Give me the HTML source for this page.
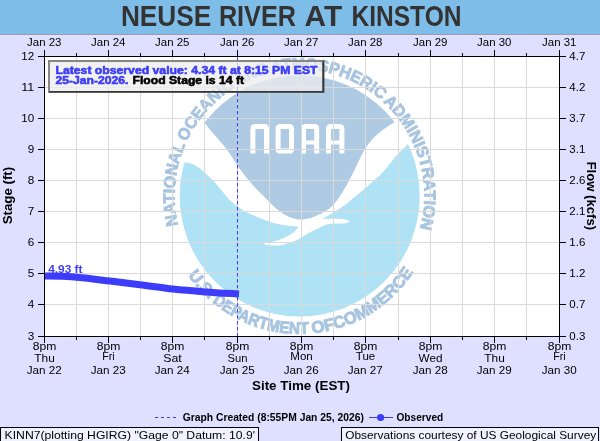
<!DOCTYPE html>
<html><head><meta charset="utf-8"><title>NEUSE RIVER AT KINSTON</title>
<style>html,body{margin:0;padding:0;background:#dfdfff;}body{width:600px;height:441px;overflow:hidden;font-family:"Liberation Sans",sans-serif;}svg{display:block;will-change:transform;}text{font-family:"Liberation Sans",sans-serif;}</style>
</head><body>
<svg width="600" height="441" viewBox="0 0 600 441">
<rect x="0" y="0" width="600" height="441" fill="#dfdfff"/>
<rect x="0" y="0" width="600" height="34" fill="#7fbde9"/>
<rect x="0" y="34" width="600" height="1" fill="#9c9cac"/>
<text x="120.9" y="26" font-size="29.6" font-weight="bold" fill="#333333" textLength="90.4" lengthAdjust="spacingAndGlyphs">NEUSE</text>
<text x="218.9" y="26" font-size="29.6" font-weight="bold" fill="#333333" textLength="77.1" lengthAdjust="spacingAndGlyphs">RIVER</text>
<text x="304.6" y="26" font-size="29.6" font-weight="bold" fill="#333333" textLength="37.6" lengthAdjust="spacingAndGlyphs">AT</text>
<text x="351.4" y="26" font-size="29.6" font-weight="bold" fill="#333333" textLength="110.1" lengthAdjust="spacingAndGlyphs">KINSTON</text>
<rect x="44" y="56" width="516" height="281" fill="#ffffff"/>
<defs><clipPath id="pc"><rect x="44.50" y="56.50" width="515.00" height="280.00"/></clipPath>
<clipPath id="disc"><ellipse cx="299.7" cy="196.0" rx="120.0" ry="120.6"/></clipPath>
<path id="ringTop" d="M 178.15 224.83 A 124.80 124.80 0 1 1 420.05 228.00"/>
<path id="ringBot" d="M 181.20 264.00 A 136.60 136.60 0 0 0 417.80 264.00"/>
</defs>
<g clip-path="url(#pc)">
<g clip-path="url(#disc)">
<path d="M 170 60 L 170 121.7 L 203.70 121.70 C 205.45 123.88 210.72 130.65 214.20 134.80 C 217.68 138.95 221.78 143.12 224.60 146.60 C 227.42 150.08 228.92 152.45 231.10 155.70 C 233.28 158.95 235.30 162.62 237.70 166.10 C 240.10 169.58 242.90 173.33 245.50 176.60 C 248.10 179.87 250.25 182.43 253.30 185.70 C 256.35 188.97 260.73 193.07 263.80 196.20 C 266.87 199.33 269.00 201.95 271.70 204.50 C 274.40 207.05 277.23 209.50 280.00 211.50 C 282.77 213.50 285.25 215.17 288.30 216.50 C 291.35 217.83 294.97 219.15 298.30 219.50 C 301.63 219.85 305.22 219.27 308.30 218.60 C 311.38 217.93 313.97 216.73 316.80 215.50 C 319.63 214.27 322.47 213.05 325.30 211.20 C 328.13 209.35 330.97 207.52 333.80 204.40 C 336.63 201.28 339.60 196.75 342.30 192.50 C 345.00 188.25 347.45 183.72 350.00 178.90 C 352.55 174.08 355.20 168.42 357.60 163.60 C 360.00 158.78 361.83 154.18 364.40 150.00 C 366.97 145.82 369.73 142.00 373.00 138.50 C 376.27 135.00 380.30 131.80 384.00 129.00 C 387.70 126.20 393.33 122.92 395.20 121.70 L 430 121.7 L 430 60 Z" fill="#afcbe4"/>
<path d="M 170 162.2 L 184.10 162.20 C 185.20 162.42 188.30 162.63 190.70 163.50 C 193.10 164.37 195.90 165.65 198.50 167.40 C 201.10 169.15 203.68 171.60 206.30 174.00 C 208.92 176.40 211.58 178.97 214.20 181.80 C 216.82 184.63 219.40 187.97 222.00 191.00 C 224.60 194.03 227.18 197.40 229.80 200.00 C 232.42 202.60 234.65 204.42 237.70 206.60 C 240.75 208.78 244.62 211.27 248.10 213.10 C 251.58 214.93 255.78 216.45 258.60 217.60 C 261.42 218.75 262.27 219.05 265.00 220.00 C 267.73 220.95 271.12 222.33 275.00 223.30 C 278.88 224.27 284.35 225.23 288.30 225.80 C 292.25 226.37 296.97 226.55 298.70 226.70 L 298.70 226.70 C 297.80 227.67 295.58 230.70 293.30 232.50 C 291.02 234.30 288.05 236.03 285.00 237.50 C 281.95 238.97 278.62 240.35 275.00 241.30 C 271.38 242.25 265.25 242.88 263.30 243.20 L 263.30 243.80 C 264.42 244.05 267.22 245.05 270.00 245.30 C 272.78 245.55 276.95 245.63 280.00 245.30 C 283.05 244.97 285.25 244.32 288.30 243.30 C 291.35 242.28 294.97 240.87 298.30 239.20 C 301.63 237.53 304.97 235.12 308.30 233.30 C 311.63 231.48 315.52 229.65 318.30 228.30 C 321.08 226.95 322.50 225.98 325.00 225.20 C 327.50 224.42 329.97 223.92 333.30 223.60 C 336.63 223.28 342.22 223.63 345.00 223.30 C 347.78 222.97 349.17 221.88 350.00 221.60 L 350.00 221.40 C 349.00 221.03 346.70 219.63 344.00 219.20 C 341.30 218.77 337.48 218.85 333.80 218.80 C 330.12 218.75 323.88 218.88 321.90 218.90 L 321.90 218.90 C 322.75 218.47 324.73 217.58 327.00 216.30 C 329.27 215.02 332.38 213.18 335.50 211.20 C 338.62 209.22 342.30 206.95 345.70 204.40 C 349.10 201.85 352.63 198.58 355.90 195.90 C 359.17 193.22 362.32 190.85 365.30 188.30 C 368.28 185.75 371.12 183.02 373.80 180.60 C 376.48 178.18 378.70 176.67 381.40 173.80 C 384.10 170.93 387.17 166.78 390.00 163.40 C 392.83 160.02 395.15 157.00 398.40 153.50 C 401.65 150.00 407.65 144.25 409.50 142.40 L 430 142.4 L 430 330 L 170 330 Z" fill="#b0e2f6"/>
</g>
<path d="M 252.90 153.60 L 252.90 128.70 Q 252.90 126.50 255.10 126.50 L 264.30 126.50 Q 266.50 126.50 266.50 128.70 L 266.50 153.60" fill="none" stroke="#ffffff" stroke-width="5.0" stroke-linejoin="miter"/>
<path d="M 278.10 148.90 L 278.10 128.70 Q 278.10 126.50 280.30 126.50 L 289.30 126.50 Q 291.50 126.50 291.50 128.70 L 291.50 148.90 Q 291.50 151.10 289.30 151.10 L 280.30 151.10 Q 278.10 151.10 278.10 148.90 Z" fill="none" stroke="#ffffff" stroke-width="5.0" stroke-linejoin="miter"/>
<path d="M 303.50 153.60 L 303.50 128.70 Q 303.50 126.50 305.70 126.50 L 314.50 126.50 Q 316.70 126.50 316.70 128.70 L 316.70 153.60" fill="none" stroke="#ffffff" stroke-width="5.0" stroke-linejoin="miter"/><rect x="302.00" y="140.5" width="16.20" height="4" fill="#ffffff"/>
<path d="M 328.50 153.60 L 328.50 128.70 Q 328.50 126.50 330.70 126.50 L 339.70 126.50 Q 341.90 126.50 341.90 128.70 L 341.90 153.60" fill="none" stroke="#ffffff" stroke-width="5.0" stroke-linejoin="miter"/><rect x="327.00" y="140.5" width="16.40" height="4" fill="#ffffff"/>
<g transform="translate(0 195.700) scale(1 1.012) translate(0 -195.700)" font-weight="bold" fill="#a7c4e0" stroke="#a7c4e0" word-spacing="-1.5">
<text font-size="16.3" stroke-width="0.8" textLength="454.1" lengthAdjust="spacingAndGlyphs"><textPath href="#ringTop" startOffset="0" textLength="454.1" lengthAdjust="spacingAndGlyphs">NATIONAL OCEANIC AND ATMOSPHERIC ADMINISTRATION</textPath></text>
<text font-size="16.6" stroke-width="0.9" textLength="32.4" lengthAdjust="spacingAndGlyphs"><textPath href="#ringBot" startOffset="12.2" textLength="32.4" lengthAdjust="spacingAndGlyphs">U.S.</textPath></text>
<text font-size="16.6" stroke-width="0.9" textLength="104.2" lengthAdjust="spacingAndGlyphs"><textPath href="#ringBot" startOffset="48.2" textLength="104.2" lengthAdjust="spacingAndGlyphs">DEPARTMENT</textPath></text>
<text font-size="16.6" stroke-width="0.9" textLength="23.6" lengthAdjust="spacingAndGlyphs"><textPath href="#ringBot" startOffset="155.7" textLength="23.6" lengthAdjust="spacingAndGlyphs">OF</textPath></text>
<text font-size="16.6" stroke-width="0.9" textLength="98.7" lengthAdjust="spacingAndGlyphs"><textPath href="#ringBot" startOffset="178.8" textLength="98.7" lengthAdjust="spacingAndGlyphs">COMMERCE</textPath></text>
</g>
</g>
<g fill="#dadada" shape-rendering="crispEdges">
<rect x="76" y="57" width="1" height="279"/>
<rect x="108" y="57" width="1" height="279"/>
<rect x="140" y="57" width="1" height="279"/>
<rect x="172" y="57" width="1" height="279"/>
<rect x="204" y="57" width="1" height="279"/>
<rect x="237" y="57" width="1" height="279"/>
<rect x="269" y="57" width="1" height="279"/>
<rect x="301" y="57" width="1" height="279"/>
<rect x="333" y="57" width="1" height="279"/>
<rect x="365" y="57" width="1" height="279"/>
<rect x="398" y="57" width="1" height="279"/>
<rect x="430" y="57" width="1" height="279"/>
<rect x="462" y="57" width="1" height="279"/>
<rect x="494" y="57" width="1" height="279"/>
<rect x="526" y="57" width="1" height="279"/>
<rect x="45" y="87" width="514" height="1"/>
<rect x="45" y="118" width="514" height="1"/>
<rect x="45" y="149" width="514" height="1"/>
<rect x="45" y="180" width="514" height="1"/>
<rect x="45" y="211" width="514" height="1"/>
<rect x="45" y="242" width="514" height="1"/>
<rect x="45" y="273" width="514" height="1"/>
<rect x="45" y="304" width="514" height="1"/>
</g>
<line x1="237.5" y1="57" x2="237.5" y2="336" stroke="#3c3cfa" stroke-width="1" stroke-dasharray="3.5 2.5"/>
<text x="48.2" y="272.6" font-size="10.3" font-weight="bold" fill="#3c3cfa" textLength="34.3" lengthAdjust="spacingAndGlyphs">4.93 ft</text>
<path d="M 45.00 276.10 C 47.83 276.13 55.83 276.02 62.00 276.30 C 68.17 276.58 74.00 277.00 82.00 277.80 C 90.00 278.60 100.33 279.95 110.00 281.10 C 119.67 282.25 129.50 283.37 140.00 284.70 C 150.50 286.03 162.17 287.90 173.00 289.10 C 183.83 290.30 194.00 291.08 205.00 291.90 C 216.00 292.72 233.33 293.65 239.00 294.00 " fill="none" stroke="#3c3cfa" stroke-width="7"/>
<rect x="48" y="60" width="276" height="32.5" fill="#ececee" fill-opacity="0.75"/>
<path d="M48 60 H324 V92.5 H48 Z M50 62 V91 H322.3 V62 Z" fill="#868686" fill-rule="evenodd"/>
<path d="M324.4 60 V92.7 H48 L50 90.9 H322.4 V62 Z" fill="#383838"/>
<g font-size="10" font-weight="bold" stroke-width="0.55" stroke-linejoin="round">
<text x="55.5" y="73.8" fill="#3c3cfa" stroke="#3c3cfa" textLength="262" lengthAdjust="spacingAndGlyphs">Latest observed value: 4.34 ft at 8:15 PM EST</text>
<text x="55.5" y="83.8" fill="#3c3cfa" stroke="#3c3cfa" textLength="73" lengthAdjust="spacingAndGlyphs">25-Jan-2026.</text>
<text x="132.5" y="83.8" fill="#000" stroke="#000" textLength="111.5" lengthAdjust="spacingAndGlyphs">Flood Stage is 14 ft</text>
</g>
<g fill="#000" shape-rendering="crispEdges">
<rect x="44" y="56" width="516" height="1"/><rect x="44" y="336" width="516" height="1"/>
<rect x="44" y="56" width="1" height="281"/><rect x="559" y="56" width="1" height="281"/>
<rect x="44" y="50" width="1" height="6"/>
<rect x="44" y="337" width="1" height="6"/>
<rect x="76" y="53" width="1" height="3"/>
<rect x="76" y="337" width="1" height="3"/>
<rect x="108" y="50" width="1" height="6"/>
<rect x="108" y="337" width="1" height="6"/>
<rect x="140" y="53" width="1" height="3"/>
<rect x="140" y="337" width="1" height="3"/>
<rect x="172" y="50" width="1" height="6"/>
<rect x="172" y="337" width="1" height="6"/>
<rect x="204" y="53" width="1" height="3"/>
<rect x="204" y="337" width="1" height="3"/>
<rect x="237" y="50" width="1" height="6"/>
<rect x="237" y="337" width="1" height="6"/>
<rect x="269" y="53" width="1" height="3"/>
<rect x="269" y="337" width="1" height="3"/>
<rect x="301" y="50" width="1" height="6"/>
<rect x="301" y="337" width="1" height="6"/>
<rect x="333" y="53" width="1" height="3"/>
<rect x="333" y="337" width="1" height="3"/>
<rect x="365" y="50" width="1" height="6"/>
<rect x="365" y="337" width="1" height="6"/>
<rect x="398" y="53" width="1" height="3"/>
<rect x="398" y="337" width="1" height="3"/>
<rect x="430" y="50" width="1" height="6"/>
<rect x="430" y="337" width="1" height="6"/>
<rect x="462" y="53" width="1" height="3"/>
<rect x="462" y="337" width="1" height="3"/>
<rect x="494" y="50" width="1" height="6"/>
<rect x="494" y="337" width="1" height="6"/>
<rect x="526" y="53" width="1" height="3"/>
<rect x="526" y="337" width="1" height="3"/>
<rect x="559" y="50" width="1" height="6"/>
<rect x="559" y="337" width="1" height="6"/>
<rect x="38" y="56" width="6" height="1"/>
<rect x="560" y="56" width="6" height="1"/>
<rect x="38" y="87" width="6" height="1"/>
<rect x="560" y="87" width="6" height="1"/>
<rect x="38" y="118" width="6" height="1"/>
<rect x="560" y="118" width="6" height="1"/>
<rect x="38" y="149" width="6" height="1"/>
<rect x="560" y="149" width="6" height="1"/>
<rect x="38" y="180" width="6" height="1"/>
<rect x="560" y="180" width="6" height="1"/>
<rect x="38" y="211" width="6" height="1"/>
<rect x="560" y="211" width="6" height="1"/>
<rect x="38" y="242" width="6" height="1"/>
<rect x="560" y="242" width="6" height="1"/>
<rect x="38" y="273" width="6" height="1"/>
<rect x="560" y="273" width="6" height="1"/>
<rect x="38" y="304" width="6" height="1"/>
<rect x="560" y="304" width="6" height="1"/>
<rect x="38" y="336" width="6" height="1"/>
<rect x="560" y="336" width="6" height="1"/>
</g>
<g font-size="10.5" fill="#000">
<text x="34.30" y="60.40" text-anchor="end" textLength="13.0" lengthAdjust="spacingAndGlyphs">12</text>
<text x="34.30" y="91.40" text-anchor="end" textLength="13.0" lengthAdjust="spacingAndGlyphs">11</text>
<text x="34.30" y="122.40" text-anchor="end" textLength="13.0" lengthAdjust="spacingAndGlyphs">10</text>
<text x="34.30" y="153.40" text-anchor="end" textLength="6.5" lengthAdjust="spacingAndGlyphs">9</text>
<text x="34.30" y="184.40" text-anchor="end" textLength="6.5" lengthAdjust="spacingAndGlyphs">8</text>
<text x="34.30" y="215.40" text-anchor="end" textLength="6.5" lengthAdjust="spacingAndGlyphs">7</text>
<text x="34.30" y="246.40" text-anchor="end" textLength="6.5" lengthAdjust="spacingAndGlyphs">6</text>
<text x="34.30" y="277.40" text-anchor="end" textLength="6.5" lengthAdjust="spacingAndGlyphs">5</text>
<text x="34.30" y="308.40" text-anchor="end" textLength="6.5" lengthAdjust="spacingAndGlyphs">4</text>
<text x="34.30" y="340.40" text-anchor="end" textLength="6.5" lengthAdjust="spacingAndGlyphs">3</text>
<text x="569.30" y="60.40" textLength="16" lengthAdjust="spacingAndGlyphs">4.7</text>
<text x="569.30" y="91.40" textLength="16" lengthAdjust="spacingAndGlyphs">4.2</text>
<text x="569.30" y="122.40" textLength="16" lengthAdjust="spacingAndGlyphs">3.7</text>
<text x="569.30" y="153.40" textLength="16" lengthAdjust="spacingAndGlyphs">3.1</text>
<text x="569.30" y="184.40" textLength="16" lengthAdjust="spacingAndGlyphs">2.6</text>
<text x="569.30" y="215.40" textLength="16" lengthAdjust="spacingAndGlyphs">2.1</text>
<text x="569.30" y="246.40" textLength="16" lengthAdjust="spacingAndGlyphs">1.6</text>
<text x="569.30" y="277.40" textLength="16" lengthAdjust="spacingAndGlyphs">1.2</text>
<text x="569.30" y="308.40" textLength="16" lengthAdjust="spacingAndGlyphs">0.7</text>
<text x="569.30" y="340.40" textLength="16" lengthAdjust="spacingAndGlyphs">0.3</text>
<text x="27.10" y="45.5" textLength="34.4" lengthAdjust="spacingAndGlyphs">Jan 23</text>
<text x="91.10" y="45.5" textLength="34.4" lengthAdjust="spacingAndGlyphs">Jan 24</text>
<text x="155.10" y="45.5" textLength="34.4" lengthAdjust="spacingAndGlyphs">Jan 25</text>
<text x="220.10" y="45.5" textLength="34.4" lengthAdjust="spacingAndGlyphs">Jan 26</text>
<text x="284.10" y="45.5" textLength="34.4" lengthAdjust="spacingAndGlyphs">Jan 27</text>
<text x="348.10" y="45.5" textLength="34.4" lengthAdjust="spacingAndGlyphs">Jan 28</text>
<text x="413.10" y="45.5" textLength="34.4" lengthAdjust="spacingAndGlyphs">Jan 29</text>
<text x="477.10" y="45.5" textLength="34.4" lengthAdjust="spacingAndGlyphs">Jan 30</text>
<text x="542.10" y="45.5" textLength="34.4" lengthAdjust="spacingAndGlyphs">Jan 31</text>
<text x="32.80" y="350.3" textLength="23.6" lengthAdjust="spacingAndGlyphs">8pm</text>
<text x="34.25" y="362.1" textLength="20.5" lengthAdjust="spacingAndGlyphs">Thu</text>
<text x="26.70" y="374" textLength="35" lengthAdjust="spacingAndGlyphs">Jan 22</text>
<text x="96.80" y="350.3" textLength="23.6" lengthAdjust="spacingAndGlyphs">8pm</text>
<text x="102.30" y="359.5" textLength="12.4" lengthAdjust="spacingAndGlyphs">Fri</text>
<text x="90.70" y="374" textLength="35" lengthAdjust="spacingAndGlyphs">Jan 23</text>
<text x="160.80" y="350.3" textLength="23.6" lengthAdjust="spacingAndGlyphs">8pm</text>
<text x="163.25" y="362.1" textLength="18.5" lengthAdjust="spacingAndGlyphs">Sat</text>
<text x="154.70" y="374" textLength="35" lengthAdjust="spacingAndGlyphs">Jan 24</text>
<text x="225.80" y="350.3" textLength="23.6" lengthAdjust="spacingAndGlyphs">8pm</text>
<text x="227.50" y="362.1" textLength="20.0" lengthAdjust="spacingAndGlyphs">Sun</text>
<text x="219.70" y="374" textLength="35" lengthAdjust="spacingAndGlyphs">Jan 25</text>
<text x="289.80" y="350.3" textLength="23.6" lengthAdjust="spacingAndGlyphs">8pm</text>
<text x="290.25" y="359.5" textLength="22.5" lengthAdjust="spacingAndGlyphs">Mon</text>
<text x="283.70" y="374" textLength="35" lengthAdjust="spacingAndGlyphs">Jan 26</text>
<text x="353.80" y="350.3" textLength="23.6" lengthAdjust="spacingAndGlyphs">8pm</text>
<text x="355.75" y="359.5" textLength="19.5" lengthAdjust="spacingAndGlyphs">Tue</text>
<text x="347.70" y="374" textLength="35" lengthAdjust="spacingAndGlyphs">Jan 27</text>
<text x="418.80" y="350.3" textLength="23.6" lengthAdjust="spacingAndGlyphs">8pm</text>
<text x="418.50" y="362.1" textLength="24.0" lengthAdjust="spacingAndGlyphs">Wed</text>
<text x="412.70" y="374" textLength="35" lengthAdjust="spacingAndGlyphs">Jan 28</text>
<text x="482.80" y="350.3" textLength="23.6" lengthAdjust="spacingAndGlyphs">8pm</text>
<text x="484.25" y="362.1" textLength="20.5" lengthAdjust="spacingAndGlyphs">Thu</text>
<text x="476.70" y="374" textLength="35" lengthAdjust="spacingAndGlyphs">Jan 29</text>
<text x="547.80" y="350.3" textLength="23.6" lengthAdjust="spacingAndGlyphs">8pm</text>
<text x="553.30" y="359.5" textLength="12.4" lengthAdjust="spacingAndGlyphs">Fri</text>
<text x="541.70" y="374" textLength="35" lengthAdjust="spacingAndGlyphs">Jan 30</text>
</g>
<text x="301" y="390.3" font-size="13.3" font-weight="bold" text-anchor="middle" textLength="98" lengthAdjust="spacingAndGlyphs">Site Time (EST)</text>
<text transform="translate(11.7,195.6) rotate(-90)" font-size="13.5" font-weight="bold" text-anchor="middle" textLength="57.5" lengthAdjust="spacingAndGlyphs">Stage (ft)</text>
<text transform="translate(587.4,195.8) rotate(90)" font-size="13.5" font-weight="bold" text-anchor="middle" textLength="68.5" lengthAdjust="spacingAndGlyphs">Flow (kcfs)</text>
<line x1="155" y1="417.5" x2="176" y2="417.5" stroke="#3c3cfa" stroke-width="1" stroke-dasharray="3 3"/>
<text x="182.7" y="420.5" font-size="10" font-weight="bold" textLength="181.2" lengthAdjust="spacingAndGlyphs">Graph Created (8:55PM Jan 25, 2026)</text>
<line x1="369" y1="417.5" x2="393" y2="417.5" stroke="#3c3cfa" stroke-width="1"/>
<circle cx="380.6" cy="417.5" r="3.6" fill="#3c3cfa"/>
<text x="396.5" y="420.5" font-size="10" font-weight="bold" textLength="46.7" lengthAdjust="spacingAndGlyphs">Observed</text>
<rect x="0.5" y="427.5" width="258" height="20" fill="#f1f1ff" stroke="#000" stroke-width="1"/>
<text x="4.6" y="439.2" font-size="11" textLength="250.4" lengthAdjust="spacingAndGlyphs">KINN7(plotting HGIRG) "Gage 0" Datum: 10.9'</text>
<rect x="341.5" y="427.5" width="257" height="20" fill="#f1f1ff" stroke="#000" stroke-width="1"/>
<text x="345.2" y="439.2" font-size="11" textLength="251" lengthAdjust="spacingAndGlyphs">Observations courtesy of US Geological Survey</text>
</svg></body></html>
